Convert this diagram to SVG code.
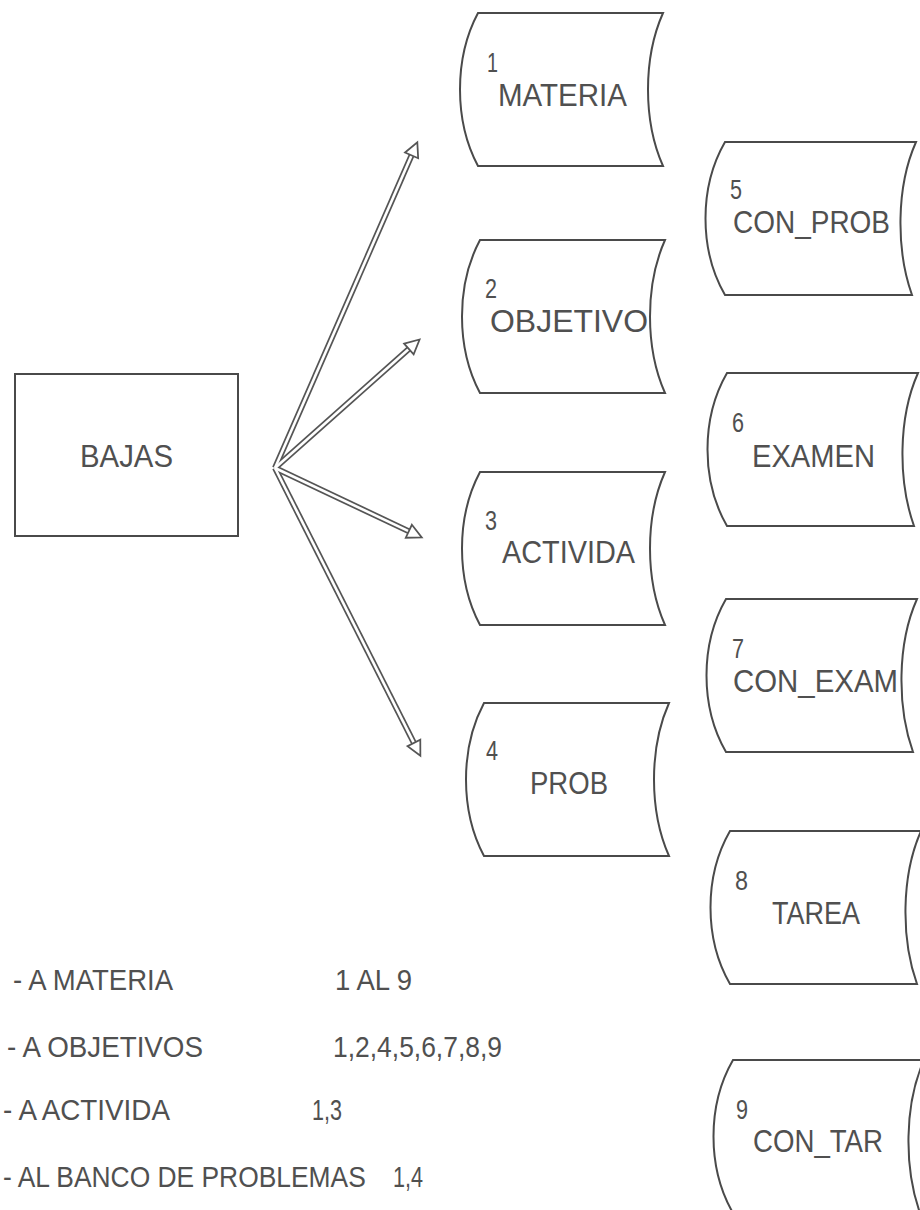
<svg xmlns="http://www.w3.org/2000/svg" width="920" height="1210" viewBox="0 0 920 1210">
<style>
  .shape{fill:#fff;stroke:#4a4a4a;stroke-width:2}
  .box{fill:#fff;stroke:#4a4a4a;stroke-width:2}
  text{font-family:"Liberation Sans","DejaVu Sans",sans-serif;fill:#505050}
  .lbl{font-size:31px}
  .num{font-size:28px}
  .leg{font-size:30px}
  .shaftO{stroke:#555;stroke-width:6;fill:none}
  .shaftI{stroke:#fff;stroke-width:2.6;fill:none}
</style>
<defs>
  <path id="storeL" d="M0,0 L185,0 C165,45 165,108 185,153 L0,153 C-24,108 -24,45 0,0 Z"/>
  <path id="storeR" d="M0,0 L191,0 C171,45 171,108 187,153 L0,153 C-26,108 -26,45 0,0 Z"/>
  <marker id="head" markerUnits="userSpaceOnUse" markerWidth="22" markerHeight="22" viewBox="-3 -9 20 18" refX="5" refY="0" orient="auto">
    <path d="M0,-6.5 L13,0 L0,6.5 Z" fill="#fff" stroke="#555" stroke-width="1.6"/>
  </marker>
</defs>
<rect width="920" height="1210" fill="#fff"/>

<g id="connectors">
  <line class="shaftO" x1="275" y1="468" x2="413.8" y2="150.3"/>
  <line class="shaftO" x1="275" y1="468" x2="413" y2="345.3"/>
  <line class="shaftO" x1="275" y1="468" x2="413.8" y2="533.6"/>
  <line class="shaftO" x1="275" y1="468" x2="416.4" y2="747.9"/>
  <line class="shaftI" x1="275" y1="468" x2="413.8" y2="150.3" marker-end="url(#head)"/>
  <line class="shaftI" x1="275" y1="468" x2="413" y2="345.3" marker-end="url(#head)"/>
  <line class="shaftI" x1="275" y1="468" x2="413.8" y2="533.6" marker-end="url(#head)"/>
  <line class="shaftI" x1="275" y1="468" x2="416.4" y2="747.9" marker-end="url(#head)"/>
</g>

<g id="bajas">
  <rect class="box" x="15" y="374" width="223" height="162"/>
  <text class="lbl" x="80" y="467" textLength="93" lengthAdjust="spacingAndGlyphs">BAJAS</text>
</g>

<g id="n1">
  <use href="#storeL" class="shape" x="478" y="13"/>
  <text class="num" x="487" y="72" textLength="11" lengthAdjust="spacingAndGlyphs">1</text>
  <text class="lbl" x="498" y="106" textLength="129" lengthAdjust="spacingAndGlyphs">MATERIA</text>
</g>
<g id="n2">
  <use href="#storeL" class="shape" x="480" y="240"/>
  <text class="num" x="485" y="298" textLength="12" lengthAdjust="spacingAndGlyphs">2</text>
  <text class="lbl" x="490" y="332" textLength="158" lengthAdjust="spacingAndGlyphs">OBJETIVO</text>
</g>
<g id="n3">
  <use href="#storeL" class="shape" x="480" y="472"/>
  <text class="num" x="485" y="530" textLength="12" lengthAdjust="spacingAndGlyphs">3</text>
  <text class="lbl" x="502" y="563" textLength="133" lengthAdjust="spacingAndGlyphs">ACTIVIDA</text>
</g>
<g id="n4">
  <use href="#storeL" class="shape" x="484" y="703"/>
  <text class="num" x="486" y="760" textLength="12" lengthAdjust="spacingAndGlyphs">4</text>
  <text class="lbl" x="530" y="794" textLength="78" lengthAdjust="spacingAndGlyphs">PROB</text>
</g>
<g id="n5">
  <use href="#storeR" class="shape" x="725" y="142"/>
  <text class="num" x="730" y="199" textLength="12" lengthAdjust="spacingAndGlyphs">5</text>
  <text class="lbl" x="733" y="233" textLength="157" lengthAdjust="spacingAndGlyphs">CON_PROB</text>
</g>
<g id="n6">
  <use href="#storeR" class="shape" x="727" y="373"/>
  <text class="num" x="732" y="432" textLength="12" lengthAdjust="spacingAndGlyphs">6</text>
  <text class="lbl" x="752" y="467" textLength="123" lengthAdjust="spacingAndGlyphs">EXAMEN</text>
</g>
<g id="n7">
  <use href="#storeR" class="shape" x="726" y="599"/>
  <text class="num" x="732" y="658" textLength="12" lengthAdjust="spacingAndGlyphs">7</text>
  <text class="lbl" x="733" y="692" textLength="165" lengthAdjust="spacingAndGlyphs">CON_EXAM</text>
</g>
<g id="n8">
  <use href="#storeR" class="shape" x="730" y="831"/>
  <text class="num" x="735" y="890" textLength="13" lengthAdjust="spacingAndGlyphs">8</text>
  <text class="lbl" x="772" y="924" textLength="88" lengthAdjust="spacingAndGlyphs">TAREA</text>
</g>
<g id="n9">
  <use href="#storeR" class="shape" x="733" y="1060"/>
  <text class="num" x="736" y="1119" textLength="12" lengthAdjust="spacingAndGlyphs">9</text>
  <text class="lbl" x="753" y="1152" textLength="130" lengthAdjust="spacingAndGlyphs">CON_TAR</text>
</g>

<g id="legend">
  <text class="leg" x="13" y="990" textLength="160" lengthAdjust="spacingAndGlyphs">- A MATERIA</text>
  <text class="leg" x="335" y="990" textLength="77" lengthAdjust="spacingAndGlyphs">1 AL 9</text>
  <text class="leg" x="7" y="1057" textLength="196" lengthAdjust="spacingAndGlyphs">- A OBJETIVOS</text>
  <text class="leg" x="333" y="1057" textLength="169" lengthAdjust="spacingAndGlyphs">1,2,4,5,6,7,8,9</text>
  <text class="leg" x="3" y="1120" textLength="167" lengthAdjust="spacingAndGlyphs">- A ACTIVIDA</text>
  <text class="leg" x="312" y="1120" textLength="30" lengthAdjust="spacingAndGlyphs">1,3</text>
  <text class="leg" transform="translate(3,1187) scale(0.88,1)" x="0" y="0">- AL BANCO DE PROBLEMAS</text>
  <text class="leg" x="393" y="1187" textLength="30" lengthAdjust="spacingAndGlyphs">1,4</text>
</g>
</svg>
